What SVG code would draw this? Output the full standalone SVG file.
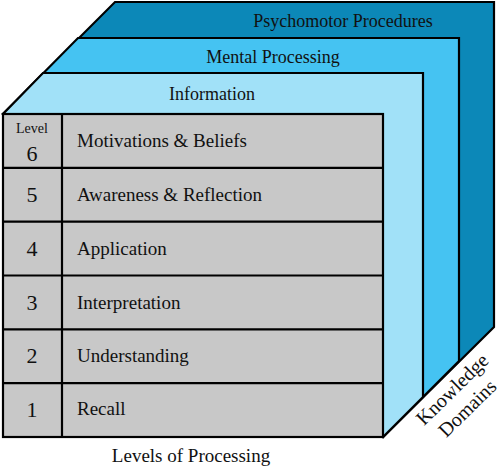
<svg xmlns="http://www.w3.org/2000/svg" width="500" height="467" viewBox="0 0 500 467">
<style>
.edge{stroke:#000;stroke-width:2.2;stroke-linejoin:miter}
.t{font-family:"Liberation Serif","Times New Roman",serif;fill:#111}
.lbl{font-size:19px}
.kd{font-size:20px;text-anchor:middle}
.num{font-size:22px;text-anchor:middle}
.top{font-size:18px;text-anchor:middle}
.row{fill:#c8c8c8}
</style>
<rect width="500" height="467" fill="#fff"/>
<g id="psychomotor">
<polygon class="edge" fill="#0c88b8" points="3,114 115,2 494,2 494,327 383,437"/>
<text class="t top" x="343" y="27">Psychomotor Procedures</text>
</g>
<g id="mental">
<polygon class="edge" fill="#45c3f2" points="3,114 78,38 459,38 459,361 383,437"/>
<text class="t top" x="273" y="63">Mental Processing</text>
</g>
<g id="information">
<polygon class="edge" fill="#a1e1f8" points="3,114 43,73 423,73 423,397 383,437"/>
<text class="t top" x="212" y="100">Information</text>
</g>
<g id="levels">
<rect class="edge row" x="3" y="114" width="380" height="323"/>
<line class="edge" x1="62" y1="114" x2="62" y2="437"/>
<line class="edge" x1="3" y1="167.8" x2="383" y2="167.8"/>
<line class="edge" x1="3" y1="221.7" x2="383" y2="221.7"/>
<line class="edge" x1="3" y1="275.5" x2="383" y2="275.5"/>
<line class="edge" x1="3" y1="329.3" x2="383" y2="329.3"/>
<line class="edge" x1="3" y1="383.2" x2="383" y2="383.2"/>
</g>
<g id="level6">
<text class="t" x="32" y="133" font-size="14" text-anchor="middle">Level</text>
<text class="t num" x="32" y="161">6</text>
<text class="t lbl" x="77" y="147">Motivations &amp; Beliefs</text>
</g>
<g id="level5">
<text class="t num" x="32" y="202">5</text>
<text class="t lbl" x="77" y="201">Awareness &amp; Reflection</text>
</g>
<g id="level4">
<text class="t num" x="32" y="256">4</text>
<text class="t lbl" x="77" y="255">Application</text>
</g>
<g id="level3">
<text class="t num" x="32" y="310">3</text>
<text class="t lbl" x="77" y="309">Interpretation</text>
</g>
<g id="level2">
<text class="t num" x="32" y="363">2</text>
<text class="t lbl" x="77" y="362">Understanding</text>
</g>
<g id="level1">
<text class="t num" x="32" y="417">1</text>
<text class="t lbl" x="77" y="415">Recall</text>
</g>
<g id="axis-labels">
<text class="t lbl" x="191" y="462" text-anchor="middle">Levels of Processing</text>
<text class="t kd" transform="translate(457,394) rotate(-44.5)">Knowledge</text>
<text class="t kd" transform="translate(472,413) rotate(-44.5)">Domains</text>
</g>
<g id="connectors"></g>
</svg>
